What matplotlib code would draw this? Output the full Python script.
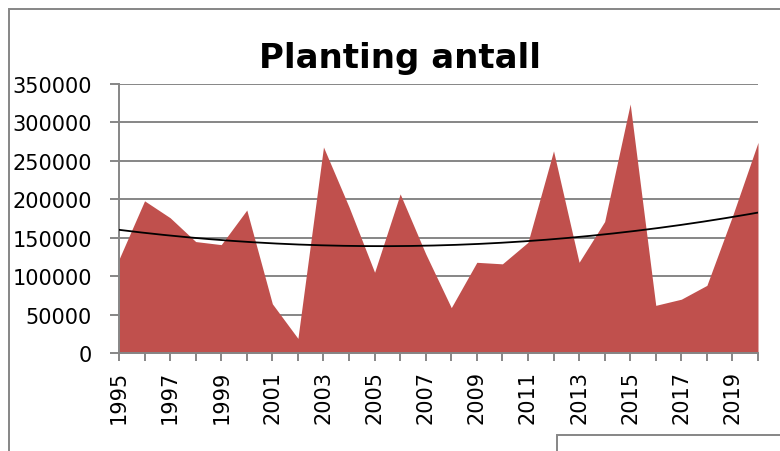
import numpy as np
import matplotlib.pyplot as plt
from matplotlib.patches import Rectangle

# data
years = list(range(1995, 2021))
antall = [122000, 198000, 176000, 145000, 141000, 186000, 64000, 19000,
          268000, 190000, 105000, 207000, 129000, 59000, 118000, 116000,
          144000, 263000, 118000, 171000, 324000, 62000, 70000, 88000,
          178000, 274000]
title = 'Planting antall'

x = np.array(years)
y = np.array(antall)

# polynomial trendline (order 2), like the spreadsheet one
coef = np.polyfit(x - x[0], y, 2)
xs = np.linspace(x[0], x[-1], 200)
trend = np.polyval(coef, xs - x[0])

plt.rcParams['font.family'] = 'DejaVu Sans'
fig = plt.figure(figsize=(7.8, 4.52), dpi=100)
ax = fig.add_axes([119 / 780, 1 - 354 / 452, (758 - 119) / 780, (354 - 85) / 452])

grid_c = '#868686'
ax.fill_between(x, y, 0, color='#C0504D', lw=0, zorder=2)
ax.plot(xs, trend, color='black', lw=1.3, zorder=3)

ax.set_xlim(1995, 2020)
ax.set_ylim(0, 350000)
ax.set_yticks(range(0, 350001, 50000))
ax.set_yticklabels([str(v) for v in range(0, 350001, 50000)], fontsize=15)
ax.set_xticks(years)
ax.set_xticklabels([str(yr) if yr % 2 == 1 else '' for yr in years],
                   rotation=90, fontsize=15)
ax.yaxis.grid(True, color=grid_c, lw=1.4, zorder=1)
ax.set_axisbelow(True)

for s in ['top', 'right']:
    ax.spines[s].set_visible(False)
for s in ['left', 'bottom']:
    ax.spines[s].set_color(grid_c)
    ax.spines[s].set_linewidth(1.4)
ax.tick_params(axis='y', length=6.5, width=1.4, color=grid_c, pad=13)
ax.tick_params(axis='x', length=6, width=1.4, color=grid_c, pad=6)

fig.text(400 / 780, 1 - 68 / 452, title, ha='center', va='baseline',
         fontsize=24.5, fontweight='bold')

# chart border and the edge of the next box
fig.patches.append(Rectangle((9 / 780, -0.1), 1.2, 1 - 10 / 452 + 0.1,
                             transform=fig.transFigure, fill=False,
                             edgecolor=grid_c, lw=1.4))
fig.patches.append(Rectangle((557 / 780, -0.1), 1.0, 0.1 + 1 - 436 / 452,
                             transform=fig.transFigure, fill=False,
                             edgecolor=grid_c, lw=1.4))

fig.savefig('out.png', dpi=100)
